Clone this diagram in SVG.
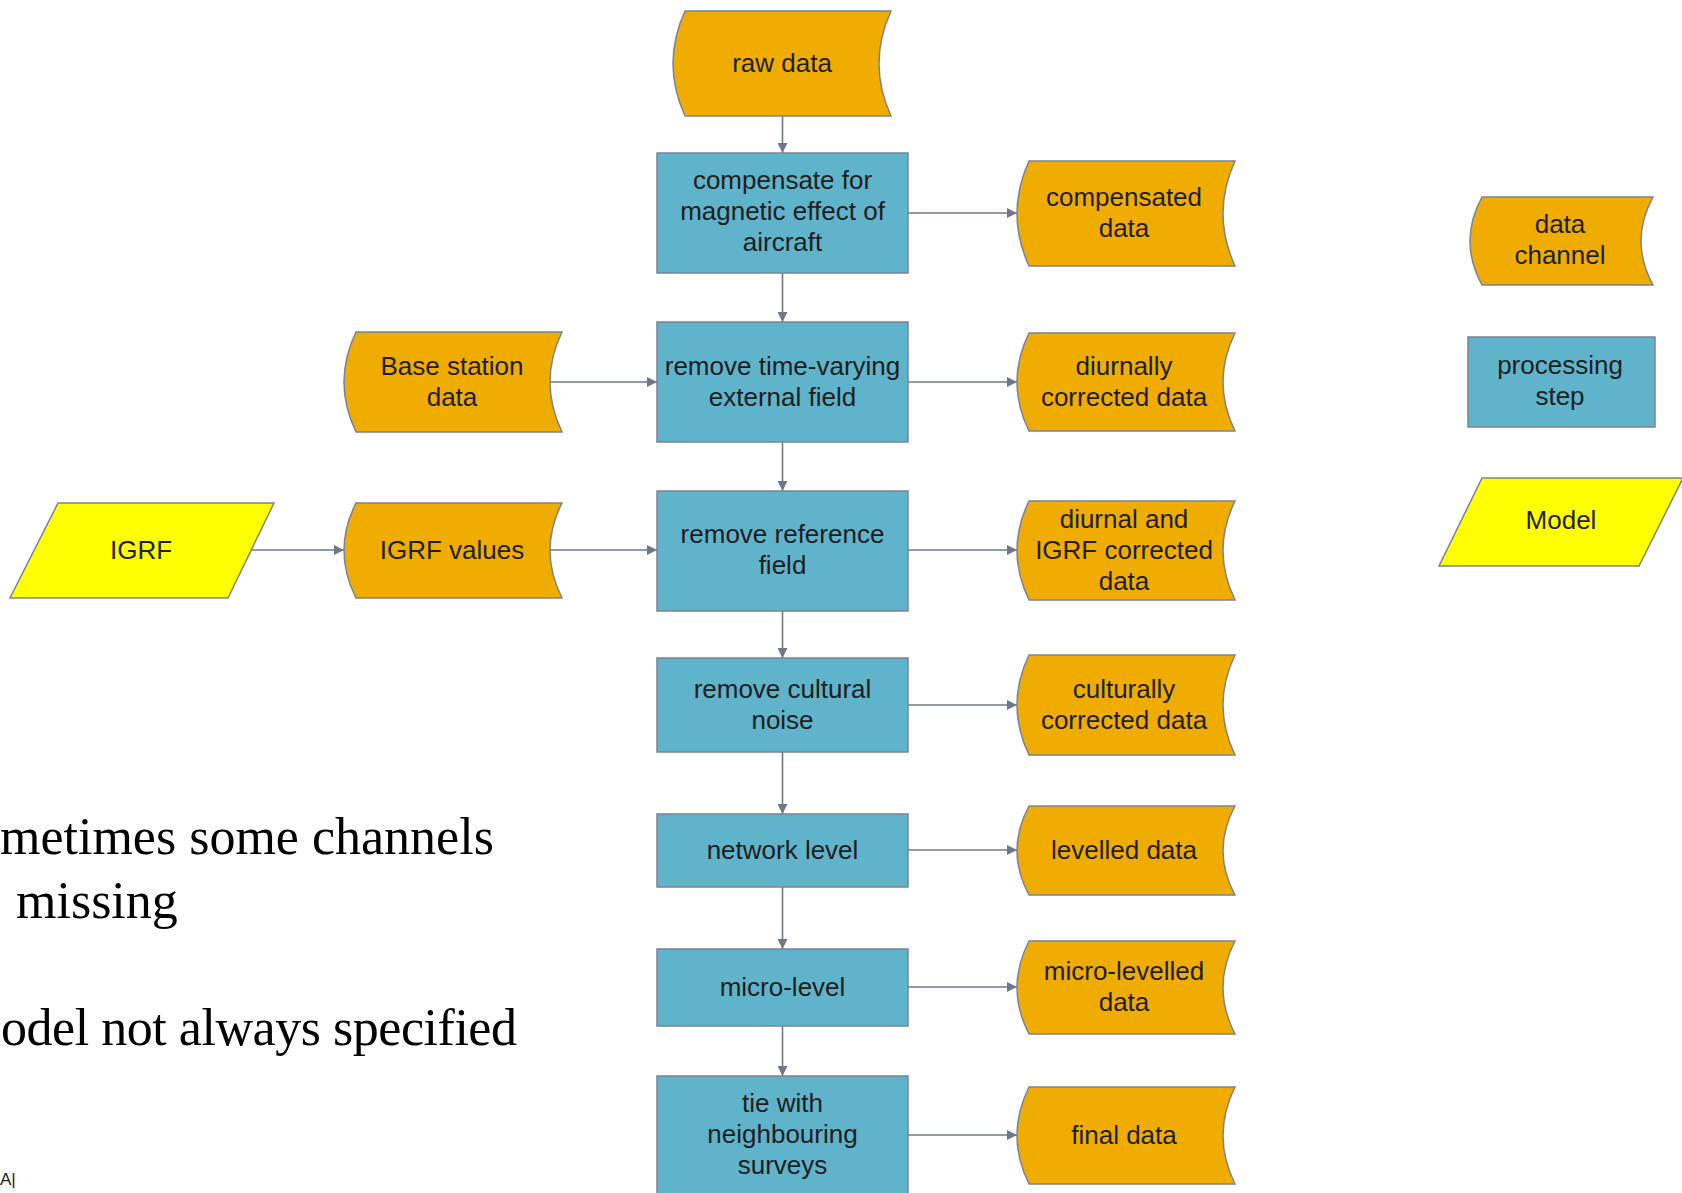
<svg xmlns="http://www.w3.org/2000/svg" width="1682" height="1193" viewBox="0 0 1682 1193">
<style>
.data{fill:#f0ac00;stroke:#7b8294;stroke-width:1.5}
.step{fill:#5fb3cb;stroke:#7b8294;stroke-width:1.5}
.model{fill:#ffff00;stroke:#7b8294;stroke-width:1.5}
.lbl{font-family:"Liberation Sans",Arial,sans-serif;font-size:26px;fill:#1e1e1e;text-anchor:middle}
.body{font-family:"Liberation Serif","Times New Roman",serif;font-size:52px;fill:#000}
.conn{stroke:#6e778b;stroke-width:1.6;fill:none;marker-end:url(#arr)}
</style>
<defs>
<marker id="arr" markerUnits="userSpaceOnUse" markerWidth="11" markerHeight="10" refX="10" refY="5" orient="auto">
<path d="M0,0 L10,5 L0,10 Z" fill="#6e778b"/>
</marker>
</defs>
<rect width="1682" height="1193" fill="#fff"/>

<g id="connectors">
<line class="conn" x1="782.5" y1="116" x2="782.5" y2="153"/>
<line class="conn" x1="782.5" y1="273" x2="782.5" y2="322"/>
<line class="conn" x1="782.5" y1="442" x2="782.5" y2="491"/>
<line class="conn" x1="782.5" y1="611" x2="782.5" y2="658"/>
<line class="conn" x1="782.5" y1="752" x2="782.5" y2="814"/>
<line class="conn" x1="782.5" y1="887" x2="782.5" y2="949"/>
<line class="conn" x1="782.5" y1="1026" x2="782.5" y2="1076"/>
<line class="conn" x1="908" y1="213" x2="1017" y2="213"/>
<line class="conn" x1="908" y1="382" x2="1017" y2="382"/>
<line class="conn" x1="908" y1="550" x2="1017" y2="550"/>
<line class="conn" x1="908" y1="705" x2="1017" y2="705"/>
<line class="conn" x1="908" y1="850" x2="1017" y2="850"/>
<line class="conn" x1="908" y1="987" x2="1017" y2="987"/>
<line class="conn" x1="908" y1="1135" x2="1017" y2="1135"/>
<line class="conn" x1="550" y1="382" x2="657" y2="382"/>
<line class="conn" x1="550" y1="550" x2="657" y2="550"/>
<line class="conn" x1="251" y1="550" x2="344" y2="550"/>
</g>

<g id="raw-data">
<path class="data" d="M685,11 L891,11 Q867,63.5 891,116 L685,116 Q661,63.5 685,11 Z"/>
<text class="lbl" x="782" y="72">raw data</text>
</g>

<g id="compensate">
<rect class="step" x="657" y="153" width="251" height="120"/>
<text class="lbl" x="782.5" y="189">compensate for</text>
<text class="lbl" x="782.5" y="220">magnetic effect of</text>
<text class="lbl" x="782.5" y="251">aircraft</text>
</g>

<g id="compensated-data">
<path class="data" d="M1029,161 L1235,161 Q1211,213.5 1235,266 L1029,266 Q1005,213.5 1029,161 Z"/>
<text class="lbl" x="1124" y="206">compensated</text>
<text class="lbl" x="1124" y="237">data</text>
</g>

<g id="base-station">
<path class="data" d="M356,332 L562,332 Q538,382 562,432 L356,432 Q332,382 356,332 Z"/>
<text class="lbl" x="452" y="375">Base station</text>
<text class="lbl" x="452" y="406">data</text>
</g>

<g id="remove-time-varying">
<rect class="step" x="657" y="322" width="251" height="120"/>
<text class="lbl" x="782.5" y="375">remove time-varying</text>
<text class="lbl" x="782.5" y="406">external field</text>
</g>

<g id="diurnally-corrected">
<path class="data" d="M1029,333 L1235,333 Q1211,382 1235,431 L1029,431 Q1005,382 1029,333 Z"/>
<text class="lbl" x="1124" y="375">diurnally</text>
<text class="lbl" x="1124" y="406">corrected data</text>
</g>

<g id="igrf">
<path class="model" d="M58,503 L274,503 L228,598 L10,598 Z"/>
<text class="lbl" x="141" y="559">IGRF</text>
</g>

<g id="igrf-values">
<path class="data" d="M356,503 L562,503 Q538,550.5 562,598 L356,598 Q332,550.5 356,503 Z"/>
<text class="lbl" x="452" y="559">IGRF values</text>
</g>

<g id="remove-reference">
<rect class="step" x="657" y="491" width="251" height="120"/>
<text class="lbl" x="782.5" y="543">remove reference</text>
<text class="lbl" x="782.5" y="574">field</text>
</g>

<g id="diurnal-igrf-corrected">
<path class="data" d="M1029,501 L1235,501 Q1211,550.5 1235,600 L1029,600 Q1005,550.5 1029,501 Z"/>
<text class="lbl" x="1124" y="528">diurnal and</text>
<text class="lbl" x="1124" y="559">IGRF corrected</text>
<text class="lbl" x="1124" y="590">data</text>
</g>

<g id="remove-cultural">
<rect class="step" x="657" y="658" width="251" height="94"/>
<text class="lbl" x="782.5" y="698">remove cultural</text>
<text class="lbl" x="782.5" y="729">noise</text>
</g>

<g id="culturally-corrected">
<path class="data" d="M1029,655 L1235,655 Q1211,705 1235,755 L1029,755 Q1005,705 1029,655 Z"/>
<text class="lbl" x="1124" y="698">culturally</text>
<text class="lbl" x="1124" y="729">corrected data</text>
</g>

<g id="network-level">
<rect class="step" x="657" y="814" width="251" height="73"/>
<text class="lbl" x="782.5" y="859">network level</text>
</g>

<g id="levelled-data">
<path class="data" d="M1029,806 L1235,806 Q1211,850.5 1235,895 L1029,895 Q1005,850.5 1029,806 Z"/>
<text class="lbl" x="1124" y="859">levelled data</text>
</g>

<g id="micro-level">
<rect class="step" x="657" y="949" width="251" height="77"/>
<text class="lbl" x="782.5" y="996">micro-level</text>
</g>

<g id="micro-levelled-data">
<path class="data" d="M1029,941 L1235,941 Q1211,987.5 1235,1034 L1029,1034 Q1005,987.5 1029,941 Z"/>
<text class="lbl" x="1124" y="980">micro-levelled</text>
<text class="lbl" x="1124" y="1011">data</text>
</g>

<g id="tie-neighbouring">
<rect class="step" x="657" y="1076" width="251" height="124"/>
<text class="lbl" x="782.5" y="1112">tie with</text>
<text class="lbl" x="782.5" y="1143">neighbouring</text>
<text class="lbl" x="782.5" y="1174">surveys</text>
</g>

<g id="final-data">
<path class="data" d="M1029,1087 L1235,1087 Q1211,1135.5 1235,1184 L1029,1184 Q1005,1135.5 1029,1087 Z"/>
<text class="lbl" x="1124" y="1144">final data</text>
</g>

<g id="legend-data-channel">
<path class="data" d="M1482,197 L1653,197 Q1629,241 1653,285 L1482,285 Q1458,241 1482,197 Z"/>
<text class="lbl" x="1560" y="233">data</text>
<text class="lbl" x="1560" y="264">channel</text>
</g>

<g id="legend-processing-step">
<rect class="step" x="1468" y="337" width="187" height="90"/>
<text class="lbl" x="1560" y="374">processing</text>
<text class="lbl" x="1560" y="405">step</text>
</g>

<g id="legend-model">
<path class="model" d="M1482,478 L1683,478 L1639,566 L1439,566 Z"/>
<text class="lbl" x="1561" y="529">Model</text>
</g>

<g id="notes">
<text class="body" x="0" y="854">metimes some channels</text>
<text class="body" x="16" y="918">missing</text>
<text class="body" x="1" y="1045" textLength="516">odel not always specified</text>
<text x="0" y="1185" font-family="Liberation Sans, Arial, sans-serif" font-size="17" fill="#222">A|</text>
</g>
</svg>
